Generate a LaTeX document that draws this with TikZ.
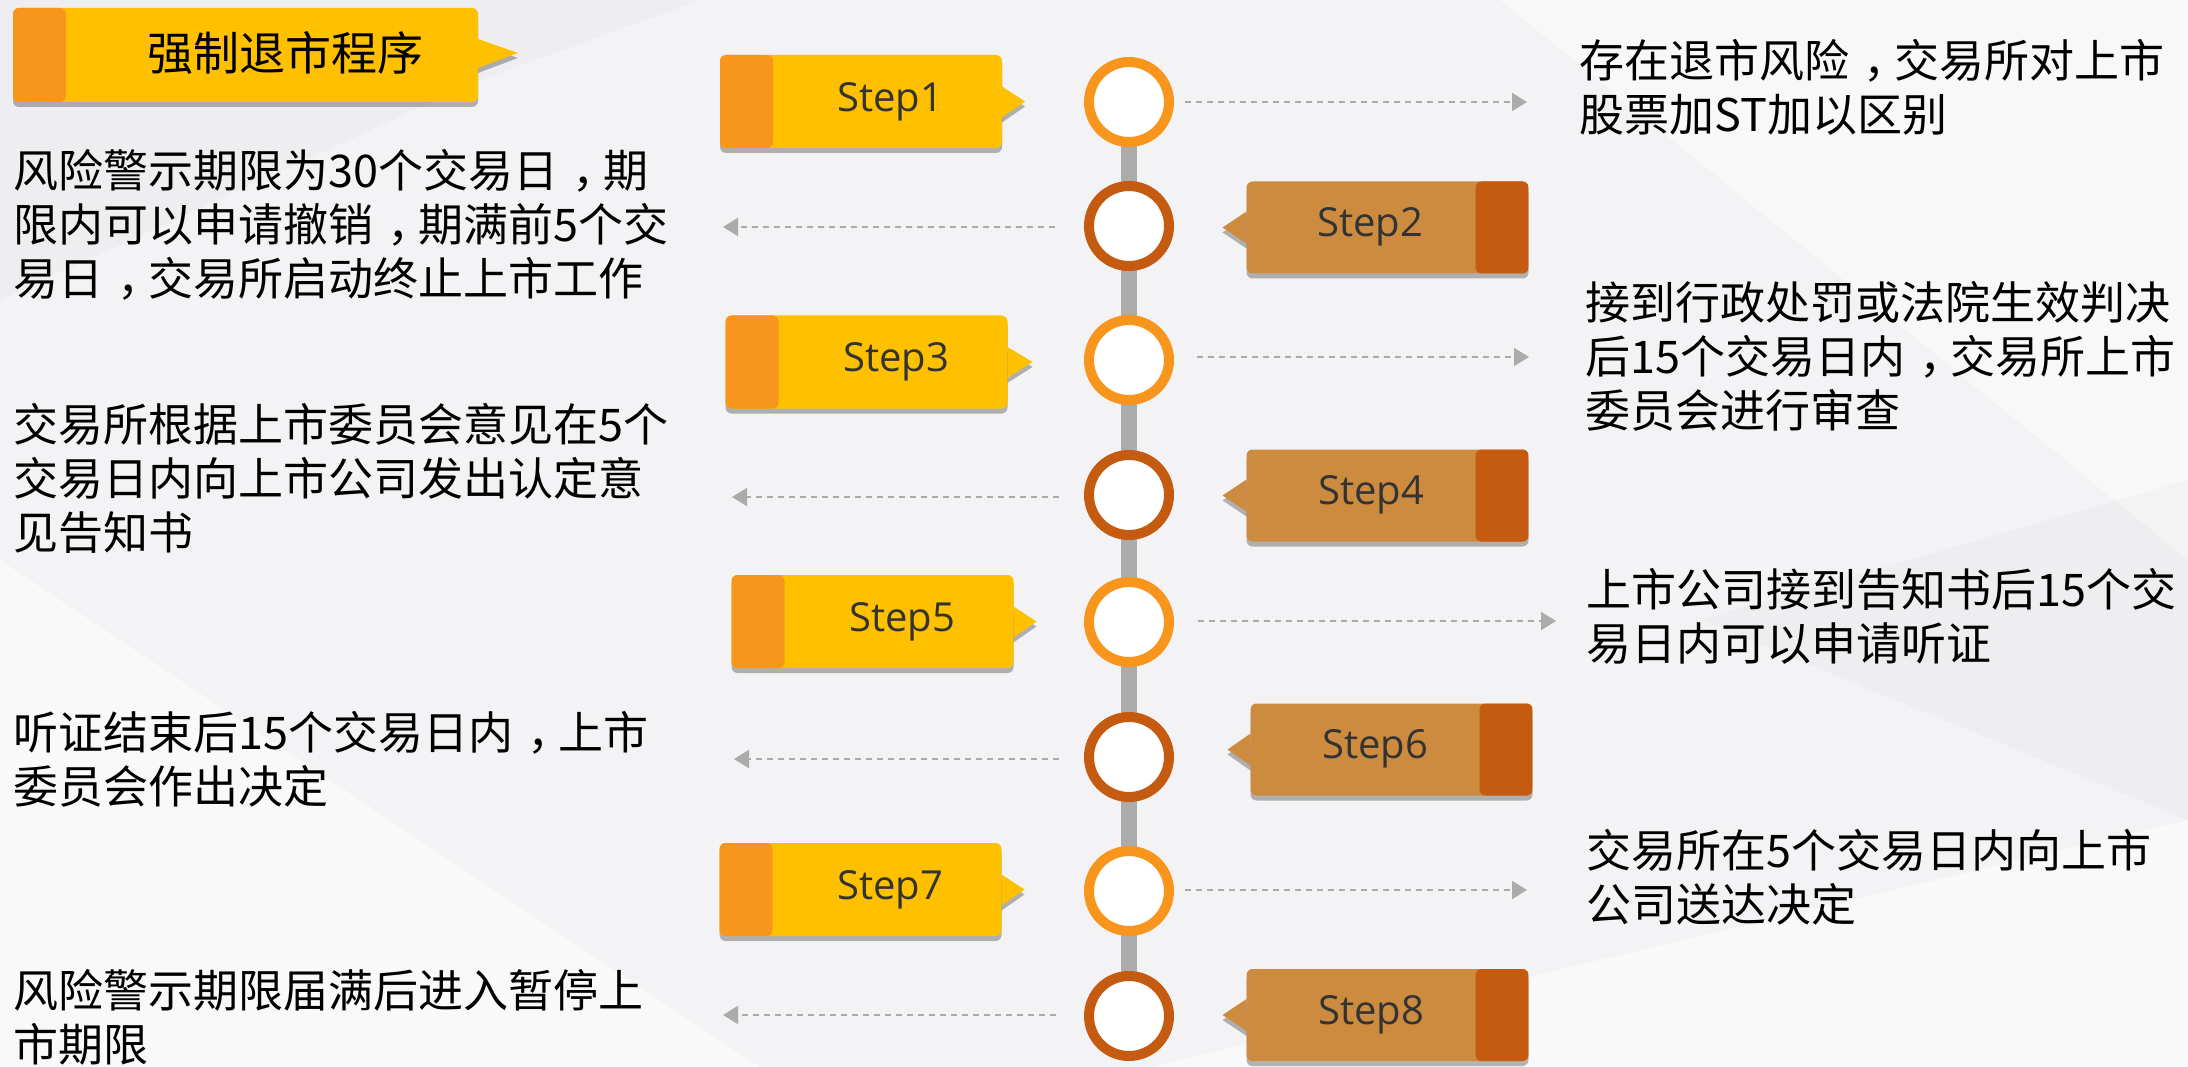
\documentclass[tikz,border=0pt]{standalone}
\usepackage{fontspec}
\setmainfont{Noto Sans CJK SC}
\newfontfamily\stepfont{Open Sans}
\newcommand\zc{\hspace{0.32em}，\hspace{-0.32em}}
\usetikzlibrary{arrows.meta,shadows}
\definecolor{bgc}{HTML}{F3F3F5}
\definecolor{gold}{HTML}{FFC000}
\definecolor{orng}{HTML}{F8951D}
\definecolor{tanbox}{HTML}{CD8B40}
\definecolor{rust}{HTML}{C55A11}
\definecolor{linegray}{HTML}{ABABAB}
\definecolor{txt}{HTML}{333333}
\tikzset{
  boxshadow/.style={drop shadow={shadow xshift=0pt,shadow yshift=-5pt,fill=black,opacity=0.28}},
  oddbox/.style={rectangle, rounded corners=6pt, fill=gold, inner sep=0pt, outer sep=0pt,
    minimum width=282pt, minimum height=93pt, boxshadow,
    path picture={\fill[orng] (path picture bounding box.north west) rectangle ([xshift=53pt]path picture bounding box.south west);}},
  evenbox/.style={rectangle, rounded corners=6pt, fill=tanbox, inner sep=0pt, outer sep=0pt,
    minimum width=282pt, minimum height=92pt, boxshadow,
    path picture={\fill[rust] ([xshift=-53pt]path picture bounding box.north east) rectangle (path picture bounding box.south east);}},
  steplabel/.style={font=\stepfont\fontsize{40}{42}\selectfont, text=txt, inner sep=0pt},
  ring/.style={circle, draw=#1, line width=10pt, fill=white, minimum size=80pt, inner sep=0pt, outer sep=0pt,
    drop shadow={shadow xshift=1pt,shadow yshift=-3pt,fill=black,opacity=0.2}},
  desc/.style={font=\fontsize{45}{54}\selectfont, align=left, inner sep=0pt, anchor=west, text=black},
  dasharrow/.style={draw=linegray, line width=2pt, dash pattern=on 6pt off 5pt,
    -{Triangle[length=15pt,width=18pt,fill=linegray]}},
}
\begin{document}
\begin{tikzpicture}[x=1pt,y=-1pt]
\useasboundingbox (0,0) rectangle (2188,1067);
\fill[bgc] (0,0) rectangle (2188,1067);
% subtle background facets
\fill[white,opacity=0.55] (0,560) -- (760,1067) -- (0,1067) -- cycle;
\fill[white,opacity=0.45] (1500,0) -- (2188,0) -- (2188,560) -- cycle;
\fill[white,opacity=0.5] (1150,1067) -- (2188,820) -- (2188,1067) -- cycle;
\fill[gray,opacity=0.04] (0,300) -- (480,80) -- (700,0) -- (0,0) -- cycle;
\fill[gray,opacity=0.04] (1700,620) -- (2188,480) -- (2188,820) -- cycle;

% title
\node[oddbox, minimum width=465pt, minimum height=94pt,
  path picture={\fill[orng] (path picture bounding box.north west) rectangle ([xshift=53pt]path picture bounding box.south west);}]
  (tb) at (245.5,55) {};
\fill[gold, boxshadow] ([yshift=16pt]tb.east) -- ([xshift=40pt,yshift=2pt]tb.east) -- ([yshift=-13pt]tb.east) -- cycle;
\node[font=\fontsize{46}{50}\selectfont, inner sep=0pt] (tt) at (285,53) {强制退市程序};

% timeline positions
\coordinate (p1) at (1129,102);
\coordinate (p2) at (1129,226);
\coordinate (p3) at (1129,360);
\coordinate (p4) at (1129,495);
\coordinate (p5) at (1129,622);
\coordinate (p6) at (1129,757);
\coordinate (p7) at (1129,891);
\coordinate (p8) at (1129,1016);
\draw[linegray, line width=16pt] (p1) -- (p8);

\node[ring=orng] (c1) at (p1) {};
\node[ring=rust] (c2) at (p2) {};
\node[ring=orng] (c3) at (p3) {};
\node[ring=rust] (c4) at (p4) {};
\node[ring=orng] (c5) at (p5) {};
\node[ring=rust] (c6) at (p6) {};
\node[ring=orng] (c7) at (p7) {};
\node[ring=rust] (c8) at (p8) {};

% step boxes
\node[oddbox] (b1) at (861,101.5) {};
\fill[gold, boxshadow] ([yshift=15pt]b1.east) -- ([xshift=23pt]b1.east) -- ([yshift=-16pt]b1.east) -- cycle;
\node[steplabel] (s1) at (890,102) {Step1};

\node[evenbox] (b2) at (1387.5,227.5) {};
\fill[tanbox, boxshadow] ([yshift=16pt]b2.west) -- ([xshift=-24pt]b2.west) -- ([yshift=-16pt]b2.west) -- cycle;
\node[steplabel] (s2) at (1370,227) {Step2};

\node[oddbox] (b3) at (866.5,362) {};
\fill[gold, boxshadow] ([yshift=15pt]b3.east) -- ([xshift=25pt]b3.east) -- ([yshift=-16pt]b3.east) -- cycle;
\node[steplabel] (s3) at (896,362) {Step3};

\node[evenbox] (b4) at (1387.5,495.5) {};
\fill[tanbox, boxshadow] ([yshift=16pt]b4.west) -- ([xshift=-24pt]b4.west) -- ([yshift=-16pt]b4.west) -- cycle;
\node[steplabel] (s4) at (1371,495) {Step4};

\node[oddbox] (b5) at (872.5,621.5) {};
\fill[gold, boxshadow] ([yshift=15pt]b5.east) -- ([xshift=23pt]b5.east) -- ([yshift=-16pt]b5.east) -- cycle;
\node[steplabel] (s5) at (902,622) {Step5};

\node[evenbox] (b6) at (1391.5,749.5) {};
\fill[tanbox, boxshadow] ([yshift=16pt]b6.west) -- ([xshift=-23pt]b6.west) -- ([yshift=-16pt]b6.west) -- cycle;
\node[steplabel] (s6) at (1375,749) {Step6};

\node[oddbox] (b7) at (860.5,889.5) {};
\fill[gold, boxshadow] ([yshift=15pt]b7.east) -- ([xshift=23pt]b7.east) -- ([yshift=-16pt]b7.east) -- cycle;
\node[steplabel] (s7) at (890,890) {Step7};

\node[evenbox] (b8) at (1387.5,1015) {};
\fill[tanbox, boxshadow] ([yshift=16pt]b8.west) -- ([xshift=-24pt]b8.west) -- ([yshift=-16pt]b8.west) -- cycle;
\node[steplabel] (s8) at (1371,1015) {Step8};

% descriptions
\node[desc] (d1) at (1579,87) {存在退市风险\zc 交易所对上市\\股票加ST加以区别};
\node[desc] (d2) at (13,225) {风险警示期限为30个交易日\zc 期\\限内可以申请撤销\zc 期满前5个交\\易日\zc 交易所启动终止上市工作};
\node[desc] (d3) at (1585,356) {接到行政处罚或法院生效判决\\后15个交易日内\zc 交易所上市\\委员会进行审查};
\node[desc] (d4) at (13,478) {交易所根据上市委员会意见在5个\\交易日内向上市公司发出认定意\\见告知书};
\node[desc] (d5) at (1586,616) {上市公司接到告知书后15个交\\易日内可以申请听证};
\node[desc] (d6) at (13,759) {听证结束后15个交易日内\zc 上市\\委员会作出决定};
\node[desc] (d7) at (1586,877) {交易所在5个交易日内向上市\\公司送达决定};
\node[desc] (d8) at (13,1017) {风险警示期限届满后进入暂停上\\市期限};

% arrow tips
\coordinate (a1) at (1527,102);
\coordinate (a2) at (723,227);
\coordinate (a3) at (1529,357);
\coordinate (a4) at (732,497);
\coordinate (a5) at (1556,621);
\coordinate (a6) at (734,759);
\coordinate (a7) at (1527,890);
\coordinate (a8) at (723,1015);
\draw[dasharrow, shorten <=16pt] (c1.east) -- (a1);
\draw[dasharrow, shorten <=34pt] (c2.west |- a2) -- (a2);
\draw[dasharrow, shorten <=28pt] (c3.east |- a3) -- (a3);
\draw[dasharrow, shorten <=30pt] (c4.west |- a4) -- (a4);
\draw[dasharrow, shorten <=29pt] (c5.east |- a5) -- (a5);
\draw[dasharrow, shorten <=30pt] (c6.west |- a6) -- (a6);
\draw[dasharrow, shorten <=16pt] (c7.east |- a7) -- (a7);
\draw[dasharrow, shorten <=33pt] (c8.west |- a8) -- (a8);
\end{tikzpicture}
\end{document}
